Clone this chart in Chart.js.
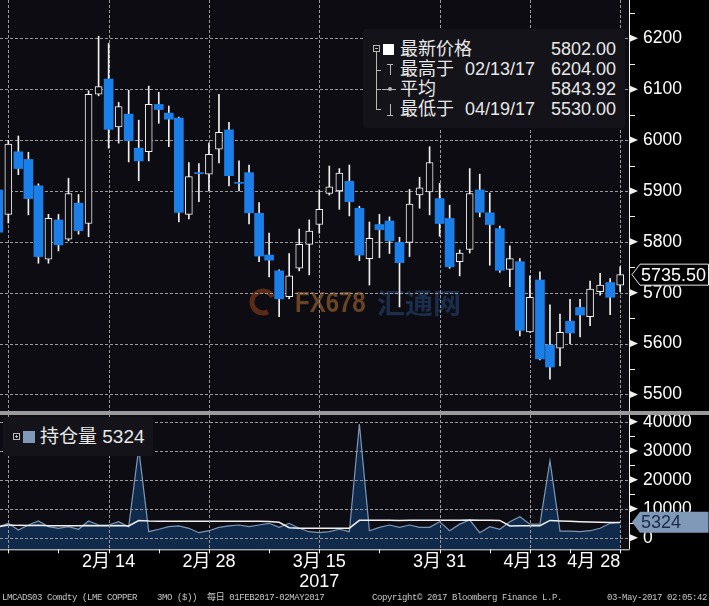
<!DOCTYPE html>
<html>
<head>
<meta charset="utf-8">
<title>LME COPPER 3MO</title>
<script src="https://cdn.jsdelivr.net/npm/chart.js@4.4.1/dist/chart.umd.min.js"></script>
<style>
  body { margin:0; background:#000; }
  #wrap { position:relative; width:709px; height:606px; overflow:hidden; background:#000;
          font-family:"Liberation Sans","Noto Sans CJK SC",sans-serif; color:#e8e8e8; }
  canvas { position:absolute; left:0; }
  #price { top:0; }
  #oi { top:411px; }
  #sep { position:absolute; left:0; top:411px; width:709px; height:4px; background:#9a9a9a; z-index:3; }
  .box { position:absolute; background:#131319; border-radius:3px; z-index:4; }
  .box div { position:absolute; }
  .ln { background:#b8b8b8; }
  .t { font-size:18px; line-height:20px; white-space:nowrap; color:#e8e8e8; }
  .foot { position:absolute; top:592px; font-family:"Liberation Mono","Noto Sans CJK SC",monospace; font-size:9px;
          letter-spacing:-0.4px; line-height:12px; color:#c8c8c8; white-space:pre; }
</style>
</head>
<body>
<div id="wrap">
  <canvas id="price" width="709" height="411"></canvas>
  <canvas id="oi" width="709" height="181"></canvas>
  <div id="sep"></div>

  <div class="box" id="lg1" style="left:363px;top:29px;width:262px;height:99px;">
    <div style="left:10px;top:16px;width:5px;height:5px;border:1px solid #b8b8b8;"></div>
    <div class="ln" style="left:12px;top:19px;width:3px;height:1px;"></div>
    <div class="ln" style="left:13px;top:23px;width:1px;height:58px;"></div>
    <div class="ln" style="left:13px;top:41px;width:5px;height:1px;"></div>
    <div class="ln" style="left:13px;top:60px;width:5px;height:1px;"></div>
    <div class="ln" style="left:13px;top:80px;width:5px;height:1px;"></div>
    <div style="left:20px;top:15px;width:11px;height:11px;background:#fff;"></div>
    <div class="ln" style="left:24px;top:35px;width:6px;height:1px;"></div>
    <div class="ln" style="left:27px;top:35px;width:1px;height:11px;"></div>
    <div class="ln" style="left:19px;top:60px;width:14px;height:1px;"></div>
    <div class="ln" style="left:25px;top:58px;width:4px;height:4px;border-radius:50%;"></div>
    <div class="ln" style="left:27px;top:75px;width:1px;height:11px;"></div>
    <div class="ln" style="left:24px;top:86px;width:6px;height:1px;"></div>
  </div>

  <div class="box" id="lg2" style="left:3px;top:417px;width:150px;height:39px;">
    <div style="left:10px;top:16px;width:5px;height:5px;border:1px solid #b8b8b8;"></div>
    <div class="ln" style="left:12px;top:19px;width:3px;height:1px;"></div>
    <div class="ln" style="left:13px;top:18px;width:1px;height:3px;"></div>
    <div style="left:20px;top:14px;width:12px;height:12px;background:#7f98b8;"></div>
    <div class="t" id="oiName" style="left:37px;top:10px;font-size:19px;"></div>
  </div>

  <div class="foot" style="left:2px;">LMCADS03 Comdty (LME COPPER    3MO ($))  每日 01FEB2017-02MAY2017</div>
  <div class="foot" style="left:372px;">Copyright© 2017 Bloomberg Finance L.P.</div>
  <div class="foot" style="right:2px;">03-May-2017 02:05:42</div>
</div>

<script>
// trading days shown (LME, 30 Jan - 28 Apr 2017)
var dates = ['01/30','01/31','02/01','02/02','02/03','02/06','02/07','02/08','02/09','02/10',
  '02/13','02/14','02/15','02/16','02/17','02/20','02/21','02/22','02/23','02/24',
  '02/27','02/28','03/01','03/02','03/03','03/06','03/07','03/08','03/09','03/10',
  '03/13','03/14','03/15','03/16','03/17','03/20','03/21','03/22','03/23','03/24',
  '03/27','03/28','03/29','03/30','03/31','04/03','04/04','04/05','04/06','04/07',
  '04/10','04/11','04/12','04/13','04/18','04/19','04/20','04/21','04/24','04/25',
  '04/26','04/27','04/28'];

var opens = [5902,5854,5977,5962,5910,5766,5843,5805,5876,5836,
  6090,6120,6026,6051,5984,5977,6070,6053,6043,5854,
  5936,5933,5982,6020,5917,5936,5856,5774,5743,5692,
  5748,5795,5834,5895,5900,5919,5866,5767,5834,5841,
  5799,5799,5892,5898,5885,5846,5761,5785,5902,5857,
  5826,5746,5761,5623,5725,5597,5591,5644,5671,5653,
  5702,5720,5715];
var highs = [5915,5999,6008,5976,5914,5854,5854,5925,5893,6097,
  6204,6190,6074,6098,6039,6106,6094,6067,6045,5956,
  5954,5994,6090,6035,5959,5951,5877,5817,5745,5777,
  5825,5843,5902,5949,5944,5951,5870,5839,5854,5849,
  5809,5903,5927,5987,5915,5872,5784,5944,5933,5896,
  5831,5792,5767,5733,5741,5676,5658,5687,5687,5723,
  5738,5728,5751];
var lows = [5805,5837,5932,5853,5758,5758,5782,5802,5815,5810,
  6087,5984,5994,5957,5920,5959,6033,5987,5839,5845,
  5879,5900,5955,5910,5900,5835,5761,5731,5653,5688,
  5743,5735,5817,5892,5864,5851,5763,5715,5769,5777,
  5672,5771,5866,5853,5811,5748,5733,5778,5849,5754,
  5740,5712,5615,5622,5568,5530,5556,5600,5613,5635,
  5695,5657,5702];
var closes = [5819,5992,5944,5885,5771,5846,5794,5895,5822,6090,
  6105,6021,6066,5999,5959,6070,6060,6041,5858,5928,
  5934,5972,6015,5930,5915,5857,5772,5764,5688,5733,
  5795,5821,5864,5908,5935,5879,5774,5807,5824,5802,
  5759,5874,5906,5956,5836,5751,5778,5895,5858,5834,
  5744,5767,5626,5691,5570,5554,5622,5621,5656,5707,
  5715,5691,5735.5];

var openInterest = [3790,4960,2650,4380,5760,3790,3240,3790,2900,5760,
  4380,4380,5530,3790,30800,2070,2900,3790,4100,3240,
  1720,2410,3560,4100,4380,3790,4380,4960,3560,4960,
  3240,2070,1720,2070,2900,2070,39200,2410,3560,4380,
  3560,4380,3560,3560,5530,2410,4680,6090,1720,3790,
  2900,5530,7240,4670,4670,26550,2300,2300,2070,2410,
  3240,4960,5324];
var oiAverage = [3790,4380,4250,4200,4250,4150,4150,4150,4100,4200,
  4150,4150,4200,4050,5900,5760,5700,5700,5700,5700,
  5650,5650,5650,5650,5650,5650,5650,5600,5300,3450,
  3300,3250,3250,3250,3300,3300,6000,6000,6000,6000,
  5950,6000,6000,6000,6050,6000,6050,6100,6000,6000,
  5950,4050,4150,4150,4150,5950,5800,5650,5500,5400,
  5300,5250,5250];

var priceTicks = [5500,5600,5700,5800,5900,6000,6100,6200];
var oiTicks = [0,10000,20000,30000,40000];
var gridIdx = [1,11,21,32,44,53,62];
var minorIdx = [6,16,27,38,49,57];
var labelIdx = [11,21,32,44,53,62];
var labelText = ['2月 14','2月 28','3月 15','3月 31','4月 13','4月 28'];
var yearIdx = 32, yearText = '2017';

var statNames = ['最新价格','最高于','平均','最低于'];
var statDates = ['','02/13/17','','04/19/17'];
var statValues = ['5802.00','6204.00','5843.92','5530.00'];

var FONT = '"Liberation Sans","Noto Sans CJK SC",sans-serif';
var GRID = '#9a9a9a';

// legend text
var lg1 = document.getElementById('lg1');
statNames.forEach(function(n, k){
  var top = 10 + k*20;
  lg1.insertAdjacentHTML('beforeend',
    '<div class="t" style="left:37px;top:'+top+'px">'+n+'</div>' +
    '<div class="t" style="left:102px;top:'+top+'px">'+statDates[k]+'</div>' +
    '<div class="t" style="right:9px;top:'+top+'px">'+statValues[k]+'</div>');
});
document.getElementById('oiName').textContent = '持仓量 ' + openInterest[openInterest.length-1];

// dashed grid drawn from the chart's own scales
function drawGrid(chart, yTicks) {
  var ctx = chart.ctx, a = chart.chartArea, x = chart.scales.x, y = chart.scales.y;
  ctx.save();
  ctx.strokeStyle = GRID; ctx.lineWidth = 1; ctx.setLineDash([3, 2]);
  ctx.beginPath();
  yTicks.forEach(function(v){
    var py = Math.round(y.getPixelForValue(v)) + 0.5;
    ctx.moveTo(a.left, py); ctx.lineTo(a.right, py);
  });
  gridIdx.forEach(function(i){
    var px = Math.round(x.getPixelForValue(i)) + 0.5;
    ctx.moveTo(px, a.top); ctx.lineTo(px, a.bottom);
  });
  ctx.stroke();
  ctx.restore();
}

var panel = {
  id: 'panel',
  beforeDraw: function(chart){
    var ctx = chart.ctx, a = chart.chartArea;
    ctx.save();
    ctx.fillStyle = '#0c0c12';
    ctx.fillRect(a.left, a.top, a.right - a.left, a.bottom - a.top);
    ctx.restore();
  },
  beforeDatasetsDraw: function(chart, args, o){
    if (!o.watermark) return;
    var ctx = chart.ctx;
    ctx.save();
    ctx.strokeStyle = '#5a2c18'; ctx.lineWidth = 5;
    ctx.beginPath(); ctx.arc(263, 302, 11, 0.35*Math.PI, 1.85*Math.PI); ctx.stroke();
    ctx.textBaseline = 'middle';
    ctx.fillStyle = '#6a4423';
    ctx.font = 'bold 30px ' + FONT;
    ctx.save(); ctx.translate(295, 304); ctx.scale(0.8, 1); ctx.fillText('FX678', 0, 0); ctx.restore();
    ctx.fillStyle = '#1a2d4a';
    ctx.font = 'bold 28px "Noto Sans CJK SC"';
    ctx.fillText('汇通网', 377, 303);
    ctx.restore();
    drawGrid(chart, o.ticks);
  },
  afterDatasetsDraw: function(chart, args, o){
    if (o.gridOnTop) drawGrid(chart, o.ticks);
  },
  afterDraw: function(chart, args, o){
    var ctx = chart.ctx, a = chart.chartArea, y = chart.scales.y, x = chart.scales.x;
    ctx.save();
    ctx.strokeStyle = '#f0f0f0'; ctx.fillStyle = '#f0f0f0'; ctx.lineWidth = 1;
    ctx.beginPath();
    ctx.moveTo(a.right + 0.5, a.top); ctx.lineTo(a.right + 0.5, a.bottom);
    ctx.stroke();
    if (o.bottomAxis) {
      ctx.beginPath();
      ctx.moveTo(a.left, a.bottom + 0.5); ctx.lineTo(a.right + 0.5, a.bottom + 0.5);
      gridIdx.concat(minorIdx).forEach(function(i){
        var px = Math.round(x.getPixelForValue(i)) + 0.5;
        ctx.moveTo(px, a.bottom); ctx.lineTo(px, a.bottom + 4);
      });
      ctx.stroke();
    }
    o.ticks.forEach(function(v){
      var py = y.getPixelForValue(v);
      ctx.beginPath();
      ctx.moveTo(a.right + 1, py - 3.5); ctx.lineTo(a.right + 9, py); ctx.lineTo(a.right + 1, py + 3.5);
      ctx.closePath(); ctx.fill();
    });
    ctx.beginPath();
    o.ticks.forEach(function(v){
      var m = v + o.step / 2;
      if (m > y.max) return;
      var py = Math.round(y.getPixelForValue(m)) + 0.5;
      ctx.moveTo(a.right, py); ctx.lineTo(a.right + 6, py);
    });
    ctx.stroke();
    // last value tag
    var ty = y.getPixelForValue(o.tagValue), h = 10.5;
    var x0 = a.right + 3, x1 = a.right + 11, x2 = chart.width - 0.5;
    ctx.beginPath();
    ctx.moveTo(x0, ty); ctx.lineTo(x1, ty - h); ctx.lineTo(x2, ty - h);
    ctx.lineTo(x2, ty + h); ctx.lineTo(x1, ty + h); ctx.closePath();
    ctx.fillStyle = o.tagFill; ctx.fill();
    if (o.tagStroke) { ctx.strokeStyle = o.tagStroke; ctx.stroke(); }
    ctx.fillStyle = o.tagColor;
    ctx.font = '18px ' + FONT; ctx.textBaseline = 'middle'; ctx.textAlign = 'left';
    ctx.fillText(o.tagText, a.right + 12, ty + 1);
    ctx.restore();
  }
};

function xScale(withLabels) {
  var s = {
    type: 'linear', min: 0.17, max: 62.88, offset: false,
    afterBuildTicks: function(sc){ sc.ticks = gridIdx.map(function(v){ return {value: v}; }); },
    afterFit: function(sc){ sc.height = withLabels ? 42.7 : 0; sc.paddingLeft = 0; sc.paddingRight = 0; },
    grid: { display: false, drawTicks: false, offset: false },
    border: { display: false },
    ticks: { display: false }
  };
  if (withLabels) {
    s.ticks = {
      display: true, autoSkip: false, maxRotation: 0, align: 'inner', padding: 3,
      color: '#ffffff', font: { size: 18, family: FONT, lineHeight: 1.1 },
      callback: function(v){
        var k = labelIdx.indexOf(v);
        if (k < 0) return '';
        return v === yearIdx ? [labelText[k], yearText] : labelText[k];
      }
    };
  }
  return s;
}

function yScale(min, max, ticks) {
  return {
    position: 'right', min: min, max: max,
    afterBuildTicks: function(sc){ sc.ticks = ticks.map(function(v){ return {value: v}; }); },
    afterFit: function(sc){ sc.width = 80; sc.paddingTop = 0; sc.paddingBottom = 0; },
    grid: { display: false, drawTicks: false },
    border: { display: false },
    ticks: { color: '#ffffff', padding: 14, font: { size: 17.5, family: FONT },
             callback: function(v){ return String(v); } }
  };
}

// candles
var wicks = [], upBodies = [], downBodies = [];
dates.forEach(function(d, i){
  wicks.push({x: i, y: [lows[i], highs[i]]});
  var b = {x: i, y: [opens[i], closes[i]]};
  if (closes[i] >= opens[i]) upBodies.push(b); else downBodies.push(b);
});

new Chart(document.getElementById('price'), {
  type: 'bar',
  data: {
    datasets: [
      { data: upBodies, backgroundColor: '#0c0c12', borderColor: '#f4f4f4', borderWidth: 1,
        borderSkipped: false, barThickness: 7, grouped: false, order: 1 },
      { data: downBodies, backgroundColor: '#1b7fe9', borderWidth: 0,
        barThickness: 9, grouped: false, order: 2 },
      { data: wicks, backgroundColor: '#f0f0f0', borderWidth: 0,
        barThickness: 1, grouped: false, order: 3 }
    ]
  },
  options: {
    responsive: false, animation: false, events: [],
    layout: { padding: 0 },
    plugins: {
      legend: { display: false }, tooltip: { enabled: false },
      panel: { ticks: priceTicks, step: 100, watermark: true,
               tagValue: closes[closes.length-1], tagText: closes[closes.length-1].toFixed(2),
               tagFill: '#000000', tagStroke: '#e8e8e8', tagColor: '#ffffff' }
    },
    scales: { x: xScale(false), y: yScale(5467.5, 6275.3, priceTicks) }
  },
  plugins: [panel]
});

new Chart(document.getElementById('oi'), {
  type: 'line',
  data: {
    datasets: [
      { data: oiAverage.map(function(v, i){ return {x: i, y: v}; }),
        borderColor: '#f0f0f0', borderWidth: 1.5, pointRadius: 0, fill: false, tension: 0, order: 1 },
      { data: openInterest.map(function(v, i){ return {x: i, y: v}; }),
        borderColor: '#7f97b7', backgroundColor: '#0f2a4b', borderWidth: 1.2,
        pointRadius: 0, fill: 'start', tension: 0, order: 2 }
    ]
  },
  options: {
    responsive: false, animation: false, events: [],
    layout: { padding: { top: 4 } },
    plugins: {
      legend: { display: false }, tooltip: { enabled: false },
      panel: { ticks: oiTicks, step: 10000, bottomAxis: true, gridOnTop: true,
               tagValue: openInterest[openInterest.length-1], tagText: String(openInterest[openInterest.length-1]),
               tagFill: '#8099b9', tagColor: '#1b2a44' }
    },
    scales: { x: xScale(true), y: yScale(-4000, 42310, oiTicks) }
  },
  plugins: [panel]
});
</script>
</body>
</html>
